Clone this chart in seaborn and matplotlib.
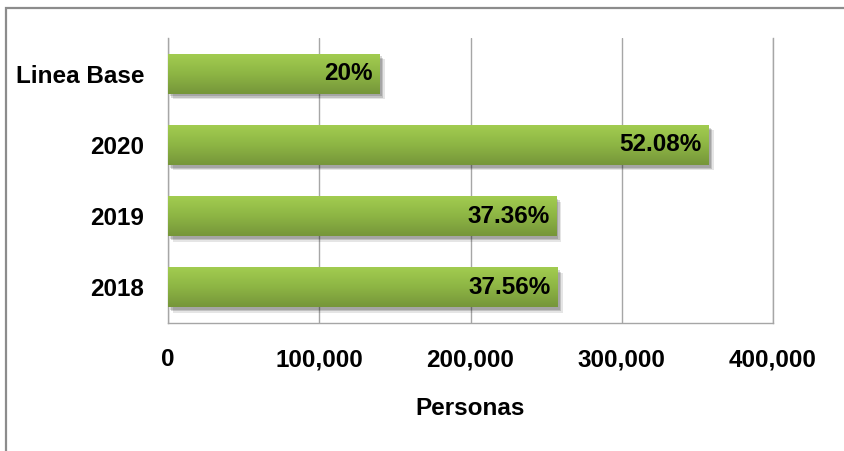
import numpy as np
import pandas as pd
import seaborn as sns
import matplotlib.pyplot as plt
import matplotlib.patheffects as pe
from matplotlib.colors import LinearSegmentedColormap
from matplotlib.patches import Rectangle
from matplotlib.ticker import FuncFormatter

sns.set_style("white")
plt.rcParams["font.family"] = ["Liberation Sans", "DejaVu Sans"]
plt.rcParams["font.weight"] = "bold"
plt.rcParams["font.size"] = 17.5
plt.rcParams["text.color"] = "black"
plt.rcParams["axes.labelcolor"] = "black"
plt.rcParams["xtick.color"] = "black"
plt.rcParams["ytick.color"] = "black"

# datos
categorias = ["Linea Base", "2020", "2019", "2018"]
personas = [140000, 357500, 256700, 257700]
etiquetas = ["20%", "52.08%", "37.36%", "37.56%"]

df = pd.DataFrame({"Categoria": categorias, "Personas": personas})

fig = plt.figure(figsize=(8.44, 4.51), dpi=100, facecolor="w")
ax = fig.add_axes([168/844, 1-323/451, 605/844, 285/451])

sns.barplot(data=df, x="Personas", y="Categoria", orient="h", width=0.56,
            color="#8DB544", ax=ax, zorder=2)

# degradado verde + sombra
verde = LinearSegmentedColormap.from_list("verde", ["#A2CC50", "#8DB544", "#76963A"])
grad = np.linspace(0, 1, 64).reshape(-1, 1)
for p in ax.patches:
    p.set_facecolor("none")
    p.set_edgecolor("none")
    p.set_path_effects([
        pe.SimplePatchShadow(offset=(3.5, -4), shadow_rgbFace="#000000", alpha=0.10),
        pe.SimplePatchShadow(offset=(2.5, -3), shadow_rgbFace="#000000", alpha=0.15),
        pe.SimplePatchShadow(offset=(1.5, -2), shadow_rgbFace="#000000", alpha=0.15),
        pe.Normal()])
    x0, y0 = p.get_x(), p.get_y()
    im = ax.imshow(grad, cmap=verde, aspect="auto", origin="lower",
                   extent=(x0, x0 + p.get_width(), y0, y0 + p.get_height()),
                   zorder=3)
    im.set_clip_path(p)

ax.set_xlim(0, 400000)
ax.set_ylim(3.5, -0.5)

for p, txt in zip(ax.patches, etiquetas):
    ax.annotate(txt, (p.get_x() + p.get_width(), p.get_y() + p.get_height()/2),
                xytext=(-5, 0), textcoords="offset points",
                ha="right", va="center", fontsize=17.5, fontweight="bold",
                color="black", zorder=4)

ax.xaxis.set_major_formatter(FuncFormatter(lambda v, _: f"{v:,.0f}"))
ax.set_xticks([0, 100000, 200000, 300000, 400000])
ax.grid(axis="x", color="#A6A6A6", lw=1)
ax.grid(axis="y", visible=False)
ax.set_axisbelow(True)
ax.spines["top"].set_visible(False)
for s in ["left", "bottom", "right"]:
    ax.spines[s].set_color("#A6A6A6")
    ax.spines[s].set_linewidth(1)
ax.tick_params(axis="x", length=0, pad=18, labelcolor="black")
ax.tick_params(axis="y", length=0, pad=17, labelcolor="black")
ax.set_ylabel("")
ax.set_xlabel("Personas", fontweight="bold", labelpad=19, color="black")

# marco del grafico
fig.patches.append(Rectangle((6/844, -0.1), 1.2, 1.1 - 8/451,
                             transform=fig.transFigure, fill=False,
                             edgecolor="#8C8C8C", lw=1.6))

fig.savefig("out.png", dpi=100)
